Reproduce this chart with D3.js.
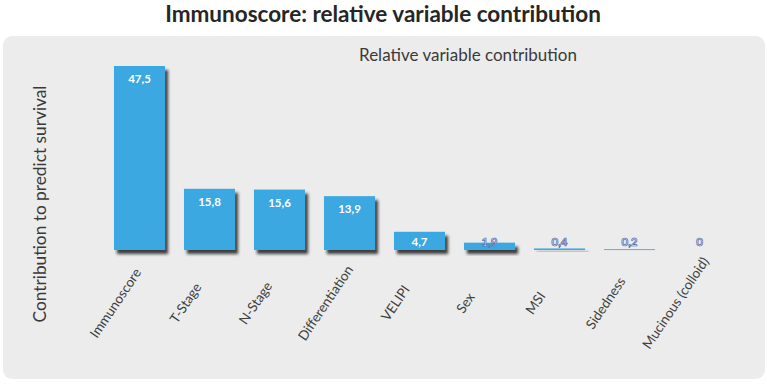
<!DOCTYPE html>
<html>
<head>
<meta charset="utf-8">
<script src="https://cdn.jsdelivr.net/npm/d3@7"></script>
<style>
  body { margin: 0; background: #fff; }
  svg text { font-family: Lato, "Open Sans", sans-serif; }
</style>
</head>
<body>
<div id="chart-area"></div>
<script>
const categories = ["Immunoscore", "T-Stage", "N-Stage", "Differentiation", "VELIPI", "Sex", "MSI", "Sidedness", "Mucinous (colloid)"];
const values = [47.5, 15.8, 15.6, 13.9, 4.7, 1.9, 0.4, 0.2, 0];
const valueLabels = ["47,5", "15,8", "15,6", "13,9", "4,7", "1,9", "0,4", "0,2", "0"];

const W = 767, H = 384;
const baseline = 250;

const svg = d3.select("#chart-area")
    .append("svg")
    .attr("width", W)
    .attr("height", H);

const defs = svg.append("defs");
const shadow = defs.append("filter")
    .attr("id", "shadow")
    .attr("x", "-20%").attr("y", "-20%")
    .attr("width", "150%").attr("height", "200%");
shadow.append("feDropShadow")
    .attr("dx", 3)
    .attr("dy", 4)
    .attr("stdDeviation", 1.6)
    .attr("flood-color", "#222")
    .attr("flood-opacity", 0.85);

// panel
svg.append("rect")
    .attr("x", 3).attr("y", 36)
    .attr("width", 762).attr("height", 343)
    .attr("rx", 9)
    .attr("fill", "#ececec");

svg.append("text")
    .attr("x", 383)
    .attr("y", 22)
    .attr("text-anchor", "middle")
    .attr("font-size", "22.5px")
    .attr("font-weight", "bold")
    .attr("fill", "#262626")
    .text("Immunoscore: relative variable contribution");

svg.append("text")
    .attr("x", 468)
    .attr("y", 61)
    .attr("text-anchor", "middle")
    .attr("font-size", "17px")
    .attr("fill", "#3a3a3a")
    .text("Relative variable contribution");

svg.append("text")
    .attr("transform", "translate(40, 204) rotate(-90)")
    .attr("text-anchor", "middle")
    .attr("dy", "0.35em")
    .attr("font-size", "17.3px")
    .attr("fill", "#3a3a3a")
    .text("Contribution to predict survival");

const x = d3.scaleBand()
    .domain(categories)
    .range([104.5, 734.5])
    .paddingInner(0.27)
    .paddingOuter(0.135);

const y = d3.scaleLinear()
    .domain([0, 47.5])
    .range([baseline, 66]);

const data = categories.map((c, i) => ({ name: c, value: values[i], label: valueLabels[i] }));

const g = svg.append("g");

g.selectAll("rect.bar")
    .data(data.filter(d => d.value > 0))
    .enter()
    .append("rect")
    .attr("class", "bar")
    .attr("x", d => x(d.name))
    .attr("y", d => y(d.value))
    .attr("width", x.bandwidth())
    .attr("height", d => Math.max(baseline - y(d.value), 0.8))
    .attr("fill", "#3aa8e1")
    .attr("filter", "url(#shadow)");

g.selectAll("text.val")
    .data(data)
    .enter()
    .append("text")
    .attr("class", "val")
    .attr("x", d => x(d.name) + x.bandwidth() / 2)
    .attr("y", d => Math.min(y(d.value) + 17, 246))
    .attr("text-anchor", "middle")
    .attr("font-size", "11.5px")
    .attr("font-weight", "bold")
    .attr("fill", d => d.value >= 3 ? "#ffffff" : "#e6ecf6")
    .attr("stroke", d => d.value >= 3 ? "none" : "#5566a8")
    .attr("stroke-width", 0.7)
    .text(d => d.label);

g.selectAll("text.cat")
    .data(data)
    .enter()
    .append("text")
    .attr("class", "cat")
    .attr("transform", d => `translate(${x(d.name) + x.bandwidth() / 2 - 24}, 303) rotate(-56)`)
    .attr("text-anchor", "middle")
    .attr("dy", "0.35em")
    .attr("font-size", "13.5px")
    .attr("fill", "#404040")
    .text(d => d.name);
</script>
</body>
</html>
